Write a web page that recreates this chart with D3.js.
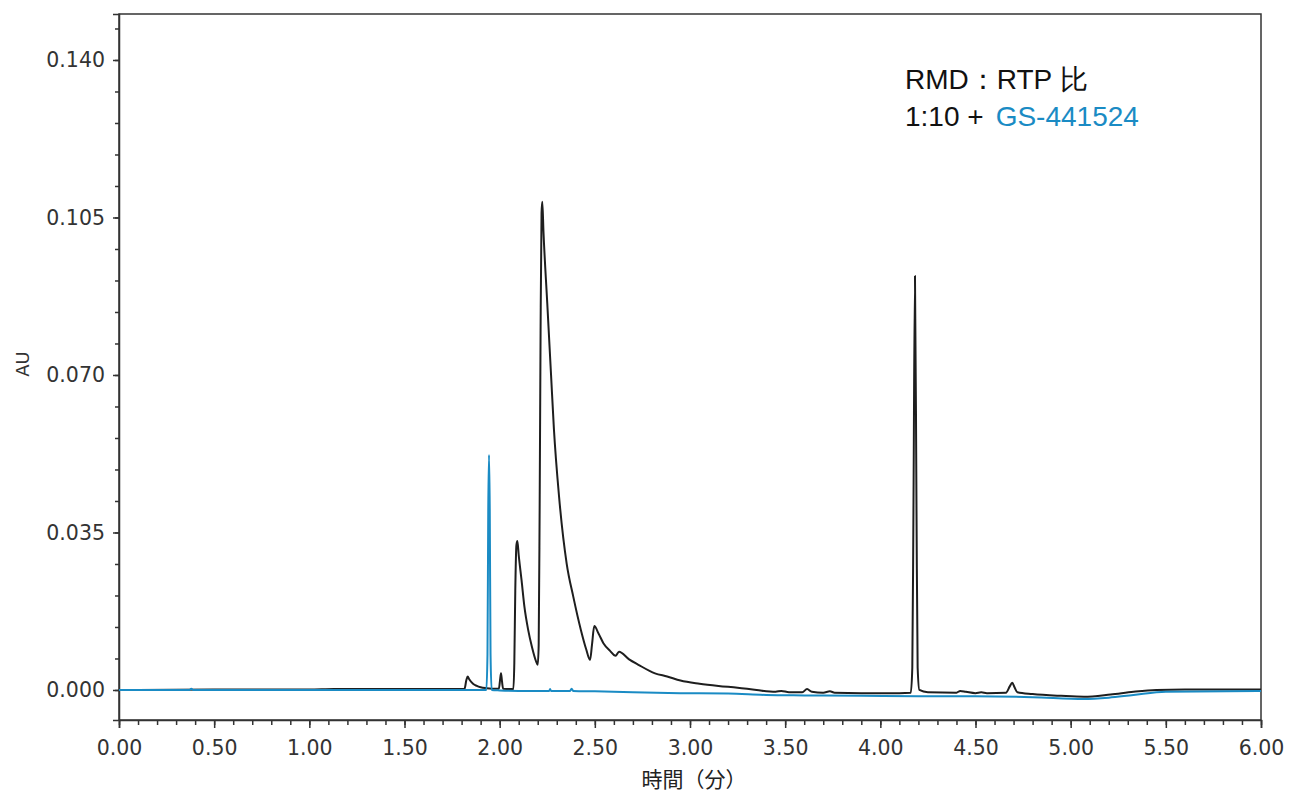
<!DOCTYPE html>
<html lang="ja">
<head>
<meta charset="UTF-8">
<title>RMD : RTP 比 クロマトグラム</title>
<script src="https://d3js.org/d3.v7.min.js"></script>
<style>
  body { margin: 0; padding: 0; background: #fff; }
  .tick-label { font-family: "DejaVu Sans", Verdana, sans-serif; font-size: 20.5px; fill: #333; }
  .axis-title { font-family: "Noto Sans CJK JP", "Noto Sans", sans-serif; font-size: 21px; fill: #222; }
  .note { font-family: "Liberation Sans", Arial, sans-serif; font-size: 28px; fill: #111; }
</style>
</head>
<body>
<div id="chart"></div>
<script>
// 時間（分）, AU  — RMD:RTP 1:10 trace (black)
const rtpTrace = [
  [0.00, 0.0000], [0.10, 0.0000], [0.50, 0.0001], [1.00, 0.0001], [1.13, 0.0002], [1.50, 0.0002], [1.80, 0.0002],
  [1.815, 0.0002], [1.825, 0.0022], [1.832, 0.0030], [1.840, 0.0024], [1.860, 0.0014], [1.880, 0.0009],
  [1.900, 0.0006], [1.930, 0.0004], [1.960, 0.0003], [1.996, 0.0003], [2.002, 0.0022], [2.007, 0.0037],
  [2.012, 0.0020], [2.018, 0.0003], [2.072, 0.0002],
  [2.077, 0.0060], [2.082, 0.0220], [2.088, 0.0322], [2.093, 0.0331], [2.100, 0.0300], [2.115, 0.0244],
  [2.130, 0.0185], [2.150, 0.0133], [2.170, 0.0095], [2.190, 0.0065], [2.200, 0.0056], [2.205, 0.0100],
  [2.210, 0.0400], [2.215, 0.0800], [2.220, 0.1060], [2.224, 0.1085], [2.230, 0.1020], [2.250, 0.0860],
  [2.270, 0.0700], [2.285, 0.0580], [2.312, 0.0430], [2.352, 0.0281], [2.387, 0.0207], [2.427, 0.0133],
  [2.455, 0.0090], [2.475, 0.0067], [2.485, 0.0100], [2.497, 0.0142], [2.520, 0.0125], [2.545, 0.0104],
  [2.580, 0.0087], [2.609, 0.0076], [2.627, 0.0085], [2.680, 0.0068], [2.729, 0.0056], [2.816, 0.0037],
  [2.880, 0.0030], [2.950, 0.0021], [3.050, 0.0014], [3.150, 0.0009], [3.250, 0.0005], [3.350, 0.0000],
  [3.450, -0.0004], [3.480, -0.0002], [3.520, -0.0005], [3.590, -0.0005], [3.615, 0.0002], [3.640, -0.0004],
  [3.700, -0.0006], [3.735, -0.0003], [3.760, -0.0006], [3.900, -0.0007], [4.100, -0.0007], [4.160, -0.0006],
  [4.168, 0.0050], [4.174, 0.0400], [4.182, 0.0920], [4.190, 0.0400], [4.196, 0.0050], [4.205, 0.0000],
  [4.250, -0.0005], [4.400, -0.0006], [4.420, -0.0002], [4.450, -0.0004], [4.500, -0.0007], [4.530, -0.0005],
  [4.560, -0.0007], [4.660, -0.0006], [4.680, 0.0008], [4.693, 0.0016], [4.705, 0.0006], [4.720, -0.0005],
  [4.800, -0.0009], [4.950, -0.0013], [5.070, -0.0015], [5.210, -0.0010], [5.330, -0.0004], [5.450, 0.0000],
  [5.600, 0.0001], [6.000, 0.0001]
];

// GS-441524 trace (blue)
const gsTrace = [
  [0.00, 0.0000], [0.37, 0.0000], [0.38, 0.0003], [0.39, 0.0000], [1.00, 0.0000], [1.50, 0.0000],
  [1.90, 0.0000], [1.930, 0.0000], [1.936, 0.0080], [1.940, 0.0400], [1.944, 0.0522], [1.948, 0.0400],
  [1.952, 0.0080], [1.958, 0.0000], [2.000, -0.0001], [2.100, -0.0002], [2.260, -0.0002], [2.265, 0.0002],
  [2.270, -0.0002], [2.370, -0.0002], [2.378, 0.0003], [2.386, -0.0002], [2.500, -0.0003], [2.700, -0.0005],
  [2.950, -0.0007], [3.200, -0.0008], [3.400, -0.0011], [3.600, -0.0012], [3.900, -0.0013], [4.200, -0.0014],
  [4.500, -0.0014], [4.800, -0.0016], [5.070, -0.0020], [5.200, -0.0017], [5.330, -0.0011], [5.500, -0.0004],
  [6.000, -0.0002]
];

const xMajorTicks = [0, 0.5, 1, 1.5, 2, 2.5, 3, 3.5, 4, 4.5, 5, 5.5, 6];
const yMajorTicks = [0, 0.035, 0.070, 0.105, 0.140];
const xTitle = "時間（分）";
const yTitle = "AU";

const width = 1289, height = 792;
const margin = { top: 14, right: 28, bottom: 72, left: 119 };
const innerW = width - margin.left - margin.right;
const innerH = height - margin.top - margin.bottom;

const svg = d3.select("#chart").append("svg")
  .attr("width", width)
  .attr("height", height);

const g = svg.append("g").attr("transform", `translate(${margin.left},${margin.top})`);

const x = d3.scaleLinear().domain([0, 6]).range([0, innerW]);
const y = d3.scaleLinear().domain([-0.00667, 0.15022]).range([innerH, 0]);

const xMinor = d3.range(0, 6.0001, 0.1).map(v => +v.toFixed(2));
const yMinor = d3.range(0, 0.1471, 0.007).map(v => +v.toFixed(3));

// frame
g.append("rect")
  .attr("width", innerW).attr("height", innerH)
  .attr("fill", "none").attr("stroke", "#333").attr("stroke-width", 1.5);

// x axis
const xAxisMinor = d3.axisBottom(x).tickValues(xMinor).tickSize(5).tickFormat("");
const xAxis = d3.axisBottom(x).tickValues(xMajorTicks).tickSize(8).tickPadding(12)
  .tickFormat(d3.format(".2f"));
g.append("g").attr("transform", `translate(0,${innerH})`).call(xAxisMinor)
  .call(a => a.select(".domain").remove())
  .selectAll("line").attr("stroke", "#333").attr("stroke-width", 1.5);
const xa = g.append("g").attr("transform", `translate(0,${innerH})`).call(xAxis);
xa.select(".domain").attr("stroke", "#333").attr("stroke-width", 1.5);
xa.selectAll("line").attr("stroke", "#333").attr("stroke-width", 1.5);
xa.selectAll("text").attr("class", "tick-label");

// y axis
const yAxisMinor = d3.axisLeft(y).tickValues(yMinor).tickSize(4).tickFormat("");
const yAxis = d3.axisLeft(y).tickValues(yMajorTicks).tickSize(6).tickPadding(8)
  .tickFormat(d3.format(".3f"));
g.append("g").call(yAxisMinor)
  .call(a => a.select(".domain").remove())
  .selectAll("line").attr("stroke", "#333").attr("stroke-width", 1.5);
const ya = g.append("g").call(yAxis);
ya.select(".domain").attr("stroke", "#333").attr("stroke-width", 1.5);
ya.selectAll("line").attr("stroke", "#333").attr("stroke-width", 1.5);
ya.selectAll("text").attr("class", "tick-label");

// traces
const line = d3.line()
  .x(d => x(d[0]))
  .y(d => y(d[1]))
  .curve(d3.curveMonotoneX);

g.append("path").datum(rtpTrace)
  .attr("fill", "none").attr("stroke", "#1e1e1e").attr("stroke-width", 2)
  .attr("stroke-linejoin", "round")
  .attr("d", line);

g.append("path").datum(gsTrace)
  .attr("fill", "none").attr("stroke", "#1a8bc4").attr("stroke-width", 2)
  .attr("stroke-linejoin", "round")
  .attr("d", line);

// axis titles
svg.append("text").attr("class", "axis-title")
  .attr("x", margin.left + innerW / 2 + 4).attr("y", 787)
  .attr("text-anchor", "middle")
  .text(xTitle);

svg.append("text")
  .attr("transform", `translate(29,364) rotate(-90)`)
  .attr("text-anchor", "middle")
  .attr("font-family", "DejaVu Sans, sans-serif").attr("font-size", 18).attr("fill", "#333")
  .text(yTitle);

// annotation
const note = svg.append("g").attr("class", "note");
note.append("text").attr("x", 905).attr("y", 89).text("RMD：RTP 比");
const l2 = note.append("text").attr("x", 905).attr("y", 126);
l2.append("tspan").text("1:10 +");
l2.append("tspan").attr("fill", "#1a8bc4").attr("dx", 12).text("GS-441524");
</script>
</body>
</html>
